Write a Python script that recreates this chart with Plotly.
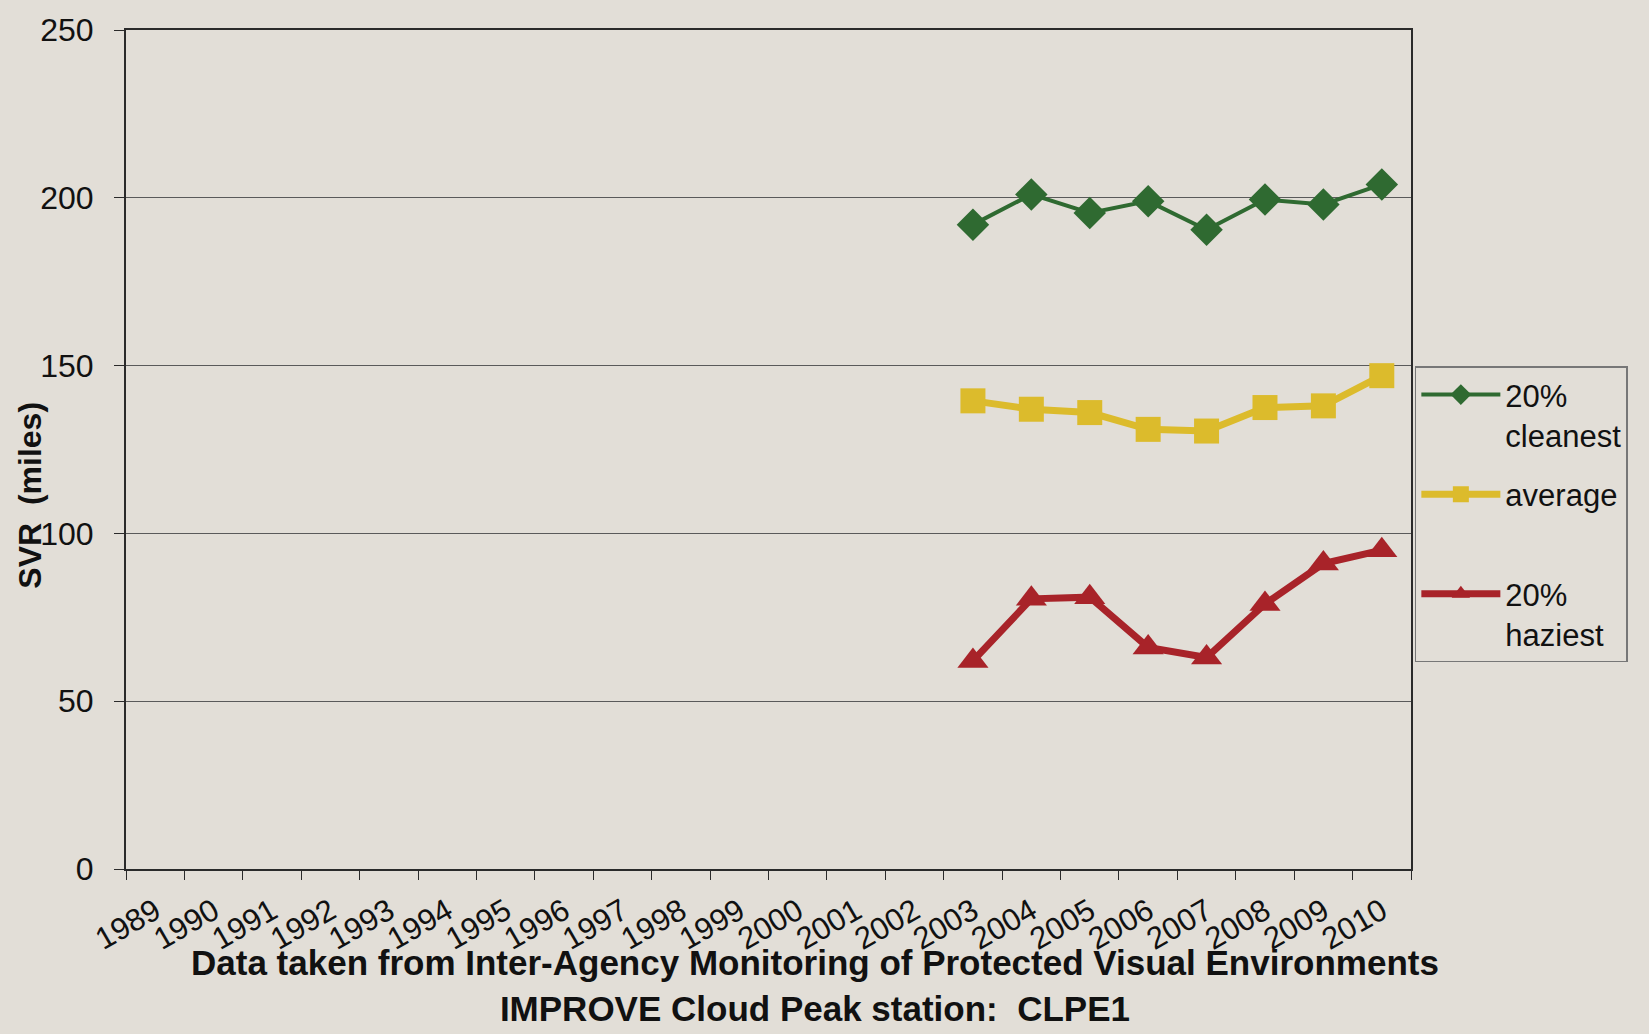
import plotly.graph_objects as go

# Categories on the x axis (all years shown, data only from 2003)
years = [str(y) for y in range(1989, 2011)]
data_years = ["2003", "2004", "2005", "2006", "2007", "2008", "2009", "2010"]

# Standard visual range (miles)
cleanest = [192, 201, 195.5, 199, 190.5, 199.5, 198, 204]
average = [139.5, 137, 136, 131, 130.5, 137.5, 138, 147]
haziest = [62, 80.5, 81, 66, 63, 79, 91, 95]

paper = "#e2ded7"
grid = "#5a5a5a"
axis_line = "#2a2a2a"

fig = go.Figure()
fig.add_trace(go.Scatter(
    x=data_years, y=cleanest, name="20%<br>cleanest", mode="lines+markers",
    line=dict(color="#2f6a31", width=4),
    marker=dict(symbol="diamond", size=25, color="#2f6a31"),
    legendgroup="a",
))
fig.add_trace(go.Scatter(
    x=data_years, y=average, name="average<br> ", mode="lines+markers",
    line=dict(color="#dcbb2c", width=7),
    marker=dict(symbol="square", size=25, color="#dcbb2c"),
    legendgroup="b",
))
fig.add_trace(go.Scatter(
    x=data_years, y=haziest, name="20%<br>haziest", mode="lines+markers",
    line=dict(color="#a82329", width=7),
    marker=dict(symbol="triangle-up", size=27, color="#a82329"),
    legendgroup="c",
))

base_font = dict(family="Liberation Sans, Arial, sans-serif", color="#111111")

fig.update_layout(
    width=1649, height=1034,
    margin=dict(l=126, r=238, t=27, b=165),
    paper_bgcolor=paper, plot_bgcolor=paper,
    font=dict(**base_font, size=30),
    showlegend=True,
    legend=dict(
        x=1.003, y=0.599, xanchor="left", yanchor="top",
        bgcolor=paper, bordercolor="#777777", borderwidth=1.5,
        font=dict(**base_font, size=31),
        valign="top", tracegroupgap=16, itemwidth=79,
    ),
    xaxis=dict(
        type="category", categoryorder="array", categoryarray=years,
        tickvals=years, ticktext=years,
        range=[-0.5, len(years) - 0.5],
        tickson="boundaries", ticks="outside", ticklen=9, tickwidth=1.2,
        tickcolor=axis_line, tickangle=-30,
        tickfont=dict(**base_font, size=31), ticklabelstandoff=10,
        showgrid=False, showline=True, linecolor=axis_line, linewidth=2,
        mirror=True, zeroline=False,
    ),
    yaxis=dict(
        range=[0, 250], dtick=50, tick0=0,
        ticks="outside", ticklen=10, tickwidth=1.2, tickcolor=axis_line,
        tickfont=dict(**base_font, size=32), ticklabelstandoff=14,
        showgrid=True, gridcolor=grid, gridwidth=1.3,
        showline=True, linecolor=axis_line, linewidth=2, mirror=True,
        zeroline=False,
    ),
    annotations=[
        dict(
            text="<b>SVR  (miles)</b>", textangle=-90,
            xref="paper", yref="paper", x=-0.0747, y=0.445,
            xanchor="center", yanchor="middle",
            showarrow=False, font=dict(**base_font, size=32),
        ),
        dict(
            text="<b>Data taken from Inter-Agency Monitoring of Protected Visual Environments</b>"
                 "<br><b>IMPROVE Cloud Peak station:  CLPE1</b>",
            xref="paper", yref="paper", x=0.536, y=-0.139,
            xanchor="center", yanchor="middle", showarrow=False,
            font=dict(**base_font, size=35),
        ),
    ],
)

fig.write_html("out.html")
